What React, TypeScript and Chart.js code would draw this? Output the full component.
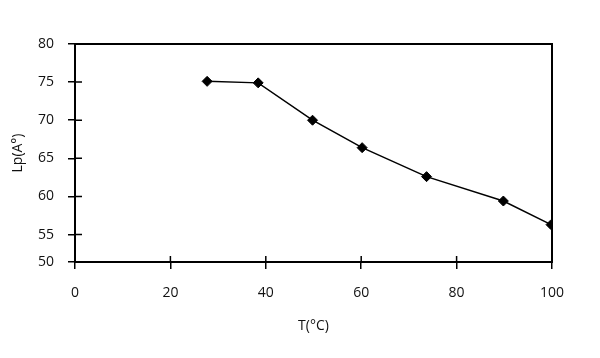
import React, { useEffect, useRef } from "react";
import { Chart, registerables } from "chart.js";

Chart.register(...registerables);

// Data
const temperatures = [27.7, 38.4, 49.8, 60.2, 73.7, 89.8, 99.8];
const lpValues = [75.1, 74.9, 70.0, 66.4, 62.6, 59.4, 56.3];

// Axis configuration
const xTickValues = [0, 20, 40, 60, 80, 100];
const yTickValues = [51.4, 55, 60, 65, 70, 75, 80]; // bottom of the drawn axis is labelled "50"
const yTickLabels = ["50", "55", "60", "65", "70", "75", "80"];
const xTitle = "T(°C)";
const yTitle = "Lp(A°)";

const FONT = "'Open Sans', 'DejaVu Sans', sans-serif";

const innerTicks = {
  id: "innerTicks",
  afterDraw(chart: any) {
    const { ctx, chartArea, scales } = chart;
    ctx.save();
    ctx.strokeStyle = "#000";
    ctx.lineWidth = 1.5;
    ctx.beginPath();
    for (const v of xTickValues) {
      const px = scales.x.getPixelForValue(v);
      ctx.moveTo(px, chartArea.bottom);
      ctx.lineTo(px, chartArea.bottom - 6);
    }
    for (const v of yTickValues) {
      const py = scales.y.getPixelForValue(v);
      ctx.moveTo(chartArea.left, py);
      ctx.lineTo(chartArea.left + 7, py);
    }
    ctx.stroke();
    ctx.lineWidth = 2;
    ctx.strokeRect(chartArea.left, chartArea.top, chartArea.right - chartArea.left, chartArea.bottom - chartArea.top);
    ctx.restore();
  },
};

export default function App() {
  const ref = useRef<HTMLCanvasElement | null>(null);
  useEffect(() => {
    if (!ref.current) return;
    const chart = new Chart(ref.current, {
      type: "line",
      data: {
        datasets: [
          {
            data: temperatures.map((t, i) => ({ x: t, y: lpValues[i] })),
            borderColor: "#000",
            backgroundColor: "#000",
            borderWidth: 1.5,
            pointStyle: "rectRot",
            pointRadius: 5,
            pointBorderWidth: 1,
            pointBorderColor: "#000",
            pointBackgroundColor: "#000",
            tension: 0,
          },
        ],
      },
      options: {
        animation: false,
        responsive: true,
        maintainAspectRatio: false,
        layout: { padding: { left: 0, right: 48, top: 44, bottom: 0 } },
        plugins: { legend: { display: false }, tooltip: { enabled: false } },
        scales: {
          x: {
            type: "linear",
            min: 0,
            max: 100,
            afterBuildTicks: (s: any) => {
              s.ticks = xTickValues.map((v) => ({ value: v }));
            },
            afterFit: (s: any) => {
              s.height = 96;
            },
            grid: { drawOnChartArea: false, tickLength: 7, color: "#000", lineWidth: 1.5 },
            border: { color: "#000", width: 2 },
            ticks: { color: "#111", font: { family: FONT, size: 14 }, padding: 16, maxRotation: 0 },
            title: {
              display: true,
              text: xTitle,
              color: "#111",
              font: { family: FONT, size: 14 },
              padding: { top: 14, bottom: 24 },
            },
          },
          y: {
            type: "linear",
            min: yTickValues[0],
            max: 80,
            afterBuildTicks: (s: any) => {
              s.ticks = yTickValues.map((v) => ({ value: v }));
            },
            afterFit: (s: any) => {
              s.width = 75;
            },
            grid: { drawOnChartArea: false, tickLength: 7, color: "#000", lineWidth: 1.5 },
            border: { color: "#000", width: 2 },
            ticks: {
              color: "#111",
              font: { family: FONT, size: 14 },
              padding: 14,
              callback: (v: any) => {
                const i = yTickValues.indexOf(Number(v));
                return i >= 0 ? yTickLabels[i] : "";
              },
            },
            title: {
              display: true,
              text: yTitle,
              color: "#111",
              font: { family: FONT, size: 14 },
              padding: { top: 10, bottom: 0 },
            },
          },
        },
      },
      plugins: [innerTicks],
    });
    return () => chart.destroy();
  }, []);
  return (
    <div style={{ position: "absolute", left: 0, top: 0, width: 600, height: 358, background: "#fff" }}>
      <canvas ref={ref} />
    </div>
  );
}
